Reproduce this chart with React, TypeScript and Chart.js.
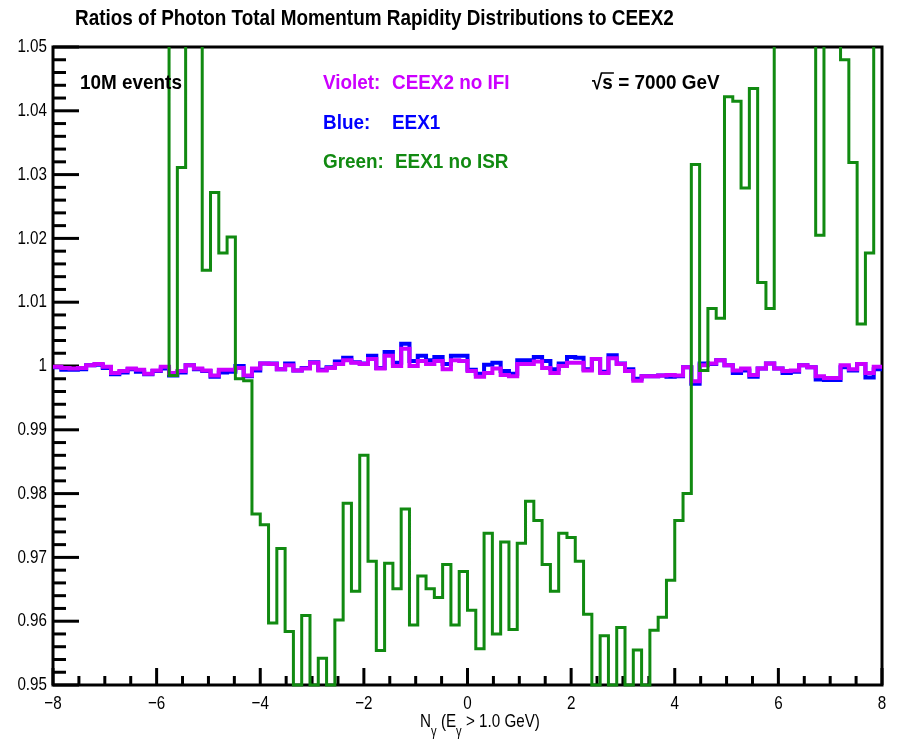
import React, { useEffect, useRef } from 'react';
import { Chart, registerables } from 'chart.js';

Chart.register(...registerables);

// ---------------- data ----------------
const TITLE = 'Ratios of Photon Total Momentum Rapidity Distributions to CEEX2';
const X_MIN = -8;
const X_MAX = 8;
const N_BINS = 100;
const Y_MIN = 0.95;
const Y_MAX = 1.05;
const X_TICKS = [-8, -6, -4, -2, 0, 2, 4, 6, 8];
const X_TICK_LABELS = ['\u22128', '\u22126', '\u22124', '\u22122', '0', '2', '4', '6', '8'];
const Y_TICKS = [0.95, 0.96, 0.97, 0.98, 0.99, 1.0, 1.01, 1.02, 1.03, 1.04, 1.05];
const Y_TICK_LABELS = ['0.95', '0.96', '0.97', '0.98', '0.99', '1', '1.01', '1.02', '1.03', '1.04', '1.05'];
const X_MINOR_STEP = 0.5;
const Y_MINOR_STEP = 0.002;

// Violet: CEEX2 no IFI
const VIOLET = [
  0.9999, 0.9997, 0.9996, 0.9997, 1.0001, 1.0003, 0.9999, 0.9989, 0.9992, 0.9996,
  0.9994, 0.9988, 0.9993, 0.9999, 0.9989, 0.9992, 1.0001, 0.9996, 0.9993, 0.9985,
  0.9994, 0.9994, 0.9997, 0.9985, 0.9996, 1.0004, 1.0003, 0.9995, 1.0001, 0.9993,
  0.9996, 1.0005, 0.9993, 0.9997, 1.0003, 1.0009, 1.0005, 1.0003, 1.0011, 0.9996,
  1.0016, 1.0000, 1.0027, 1.0000, 1.0008, 1.0003, 1.0008, 0.9995, 1.0009, 1.0008,
  0.9992, 0.9983, 0.9989, 0.9996, 0.9986, 0.9984, 1.0003, 1.0003, 1.0007, 0.9997,
  0.9989, 1.0000, 1.0005, 1.0005, 0.9993, 1.0011, 0.9989, 1.0012, 1.0003, 0.9992,
  0.9977, 0.9984, 0.9984, 0.9985, 0.9986, 0.9985, 0.9998, 0.9976, 1.0001, 1.0004,
  1.0009, 1.0001, 0.9993, 0.9996, 0.9986, 0.9996, 1.0004, 0.9996, 0.9992, 0.9993,
  1.0001, 0.9998, 0.9984, 0.9981, 0.9981, 1.0001, 0.9995, 1.0003, 0.9989, 0.9999,
];

// Blue: EEX1
const BLUE = [
  0.9998, 0.9994, 0.9994, 0.9995, 1.0001, 1.0002, 0.9997, 0.9987, 0.9990, 0.9995,
  0.9991, 0.9987, 0.9992, 0.9996, 0.9985, 0.9990, 1.0001, 0.9995, 0.9992, 0.9983,
  0.9990, 0.9991, 1.0000, 0.9984, 0.9993, 1.0004, 1.0004, 0.9995, 1.0004, 0.9993,
  0.9997, 1.0006, 0.9994, 0.9998, 1.0007, 1.0013, 1.0006, 1.0004, 1.0016, 0.9997,
  1.0022, 1.0005, 1.0035, 1.0008, 1.0016, 1.0009, 1.0014, 1.0003, 1.0016, 1.0016,
  0.9994, 0.9988, 1.0002, 1.0005, 0.9992, 0.9988, 1.0009, 1.0009, 1.0014, 1.0008,
  0.9995, 1.0004, 1.0014, 1.0013, 0.9995, 1.0011, 0.9991, 1.0017, 1.0004, 0.9995,
  0.9980, 0.9984, 0.9984, 0.9985, 0.9983, 0.9984, 0.9998, 0.9972, 1.0004, 1.0003,
  1.0009, 1.0001, 0.9989, 0.9993, 0.9983, 0.9996, 1.0004, 0.9996, 0.9989, 0.9991,
  1.0001, 0.9998, 0.9979, 0.9978, 0.9978, 0.9998, 0.9993, 1.0003, 0.9982, 0.9995,
];

// Green: EEX1 no ISR (1.06 = off-scale above the frame, 0.95 = at/below the bottom edge)
const GREEN = [
  1.06, 1.06, 1.06, 1.06, 1.06, 1.06, 1.06, 1.06, 1.06, 1.06,
  1.06, 1.06, 1.06, 1.06, 0.9985, 1.0311, 1.06, 1.06, 1.0150, 1.0272,
  1.0177, 1.0202, 0.9980, 0.9977, 0.9768, 0.9751, 0.9597, 0.9714, 0.9584, 0.95,
  0.9609, 0.95, 0.9542, 0.95, 0.9602, 0.9785, 0.9647, 0.9860, 0.9694, 0.9554,
  0.9691, 0.9651, 0.9776, 0.9594, 0.9671, 0.9651, 0.9637, 0.9689, 0.9594, 0.9678,
  0.9617, 0.9557, 0.9738, 0.9580, 0.9724, 0.9587, 0.9722, 0.9788, 0.9758, 0.9689,
  0.9647, 0.9738, 0.9731, 0.9694, 0.9611, 0.95, 0.9577, 0.95, 0.9590, 0.95,
  0.9555, 0.95, 0.9586, 0.9606, 0.9664, 0.9758, 0.9800, 1.0316, 0.9993, 1.0090,
  1.0075, 1.0422, 1.0415, 1.0279, 1.0435, 1.0131, 1.0090, 1.06, 1.06, 1.06,
  1.06, 1.06, 1.0205, 1.06, 1.06, 1.0480, 1.0319, 1.0066, 1.0177, 1.06,
];

const LEGEND_LABELS = ['Violet:', 'Blue:', 'Green:'];
const LEGEND_VALUES = ['CEEX2 no IFI', 'EEX1', 'EEX1 no ISR'];
const EVENTS_TEXT = '10M events';
const ENERGY_TEXT = ' = 7000 GeV';

// ---------------- styles ----------------
const C_VIOLET = '#cc00ff';
const C_BLUE = '#0000ff';
const C_GREEN = '#118a11';
const FF = "'Liberation Sans', Arial, Helvetica, sans-serif";

const binEdges = Array.from({ length: N_BINS + 1 }, (_, i) => X_MIN + (i * (X_MAX - X_MIN)) / N_BINS);

function histPoints(values: number[]) {
  const pts = values.map((v, i) => ({ x: binEdges[i], y: v }));
  pts.push({ x: binEdges[N_BINS], y: values[values.length - 1] });
  return pts;
}

function drawText(
  ctx: CanvasRenderingContext2D,
  text: string,
  x: number,
  y: number,
  font: string,
  color: string,
  align: CanvasTextAlign,
  sx: number
) {
  ctx.save();
  ctx.font = font;
  ctx.fillStyle = color;
  ctx.textBaseline = 'middle';
  ctx.textAlign = align;
  ctx.translate(x, y);
  ctx.scale(sx, 1);
  ctx.fillText(text, 0, 0);
  ctx.restore();
}

function textW(ctx: CanvasRenderingContext2D, text: string, font: string, sx: number) {
  ctx.save();
  ctx.font = font;
  const w = ctx.measureText(text).width * sx;
  ctx.restore();
  return w;
}

const rootFrame = {
  id: 'rootFrame',
  beforeDatasetsDraw(chart: any) {
    const { ctx, chartArea: a } = chart;
    const xs = chart.scales.x;
    const ys = chart.scales.y;
    ctx.save();
    ctx.strokeStyle = '#000';
    ctx.lineWidth = 3;
    ctx.lineCap = 'butt';
    const nY = Math.round((Y_MAX - Y_MIN) / Y_MINOR_STEP);
    for (let i = 0; i <= nY; i++) {
      const v = Y_MIN + i * Y_MINOR_STEP;
      const isMajor = Y_TICKS.some((t) => Math.abs(t - v) < 1e-9);
      const py = ys.getPixelForValue(v);
      ctx.beginPath();
      ctx.moveTo(a.left, py);
      ctx.lineTo(a.left + (isMajor ? 26 : 13), py);
      ctx.stroke();
    }
    const nX = Math.round((X_MAX - X_MIN) / X_MINOR_STEP);
    for (let i = 0; i <= nX; i++) {
      const v = X_MIN + i * X_MINOR_STEP;
      const isMajor = X_TICKS.some((t) => Math.abs(t - v) < 1e-9);
      const px = xs.getPixelForValue(v);
      ctx.beginPath();
      ctx.moveTo(px, a.bottom);
      ctx.lineTo(px, a.bottom - (isMajor ? 17 : 9));
      ctx.stroke();
    }
    ctx.strokeRect(a.left, a.top, a.right - a.left, a.bottom - a.top);
    ctx.restore();
  },
  afterDraw(chart: any) {
    const { ctx, chartArea: a } = chart;
    const xs = chart.scales.x;
    const ys = chart.scales.y;
    const tickFont = `19px ${FF}`;
    const tsx = 0.8;
    Y_TICKS.forEach((t, i) => {
      drawText(ctx, Y_TICK_LABELS[i], a.left - 6, ys.getPixelForValue(t), tickFont, '#000', 'right', tsx);
    });
    X_TICKS.forEach((t, i) => {
      drawText(ctx, X_TICK_LABELS[i], xs.getPixelForValue(t), a.bottom + 19, tickFont, '#000', 'center', tsx);
    });

    // title
    drawText(ctx, TITLE, 75, 19, `bold 22px ${FF}`, '#000', 'left', 0.86);

    // x axis title: N_gamma (E_gamma > 1.0 GeV)
    const mainF = `19px ${FF}`;
    const subF = `14px ${FF}`;
    const parts = [
      { t: 'N', sub: false },
      { t: '\u03b3', sub: true },
      { t: ' (E', sub: false },
      { t: '\u03b3', sub: true },
      { t: ' > 1.0 GeV)', sub: false },
    ];
    const total = parts.reduce((s, p) => s + textW(ctx, p.t, p.sub ? subF : mainF, tsx), 0);
    let cx = 480 - total / 2;
    const ty = a.bottom + 37;
    parts.forEach((p) => {
      const f = p.sub ? subF : mainF;
      drawText(ctx, p.t, cx, p.sub ? ty + 10 : ty, f, '#000', 'left', tsx);
      cx += textW(ctx, p.t, f, tsx);
    });

    // annotations
    const lf = `bold 21px ${FF}`;
    const lsx = 0.9;
    drawText(ctx, EVENTS_TEXT, 80, 83, lf, '#000', 'left', lsx);
    const cols = [C_VIOLET, C_BLUE, C_GREEN];
    const rows = [83, 123, 162];
    const valX = [392, 392, 395];
    LEGEND_LABELS.forEach((lab, i) => {
      drawText(ctx, lab, 323, rows[i], lf, cols[i], 'left', lsx);
      drawText(ctx, LEGEND_VALUES[i], valX[i], rows[i], lf, cols[i], 'left', lsx);
    });
    // sqrt(s) = 7000 GeV
    const sx0 = 592;
    const wr = textW(ctx, '\u221a', lf, lsx);
    const ws = textW(ctx, 's', lf, lsx);
    drawText(ctx, '\u221a', sx0, 83, lf, '#000', 'left', lsx);
    drawText(ctx, 's', sx0 + wr, 83, lf, '#000', 'left', lsx);
    ctx.save();
    ctx.strokeStyle = '#000';
    ctx.lineWidth = 1.5;
    ctx.beginPath();
    ctx.moveTo(sx0 + wr - 1, 73);
    ctx.lineTo(sx0 + wr + ws + 1, 73);
    ctx.stroke();
    ctx.restore();
    drawText(ctx, ENERGY_TEXT, sx0 + wr + ws, 83, lf, '#000', 'left', lsx);
  },
};

export default function App() {
  const ref = useRef<HTMLCanvasElement | null>(null);
  useEffect(() => {
    document.body.style.margin = '0';
    const canvas = ref.current;
    if (!canvas) return;
    const ds = (label: string, values: number[], color: string, width: number, clip: any) => ({
      label,
      data: histPoints(values),
      borderColor: color,
      backgroundColor: color,
      borderWidth: width,
      stepped: 'before' as const,
      pointRadius: 0,
      fill: false,
      tension: 0,
      borderJoinStyle: 'miter' as const,
      borderCapStyle: 'butt' as const,
      clip,
    });
    // dataset index 0 is painted on top
    const chart = new Chart(canvas, {
      type: 'line',
      data: {
        datasets: [
          ds('Green: EEX1 no ISR', GREEN, C_GREEN, 3, { left: 0, right: 0, top: 0, bottom: 2 }),
          ds('Violet: CEEX2 no IFI', VIOLET, C_VIOLET, 4, 0),
          ds('Blue: EEX1', BLUE, C_BLUE, 4, 0),
        ],
      },
      options: {
        animation: false,
        responsive: false,
        devicePixelRatio: 1,
        layout: { padding: { left: 53, right: 16, top: 47, bottom: 65 } },
        plugins: { legend: { display: false }, tooltip: { enabled: false }, title: { display: false } },
        scales: {
          x: { type: 'linear', min: X_MIN, max: X_MAX, display: false },
          y: { type: 'linear', min: Y_MIN, max: Y_MAX, display: false },
        },
      },
      plugins: [rootFrame],
    });
    return () => chart.destroy();
  }, []);
  return (
    <div style={{ width: 898, height: 750, background: '#fff' }}>
      <canvas ref={ref} width={898} height={750} style={{ display: 'block' }} />
    </div>
  );
}
